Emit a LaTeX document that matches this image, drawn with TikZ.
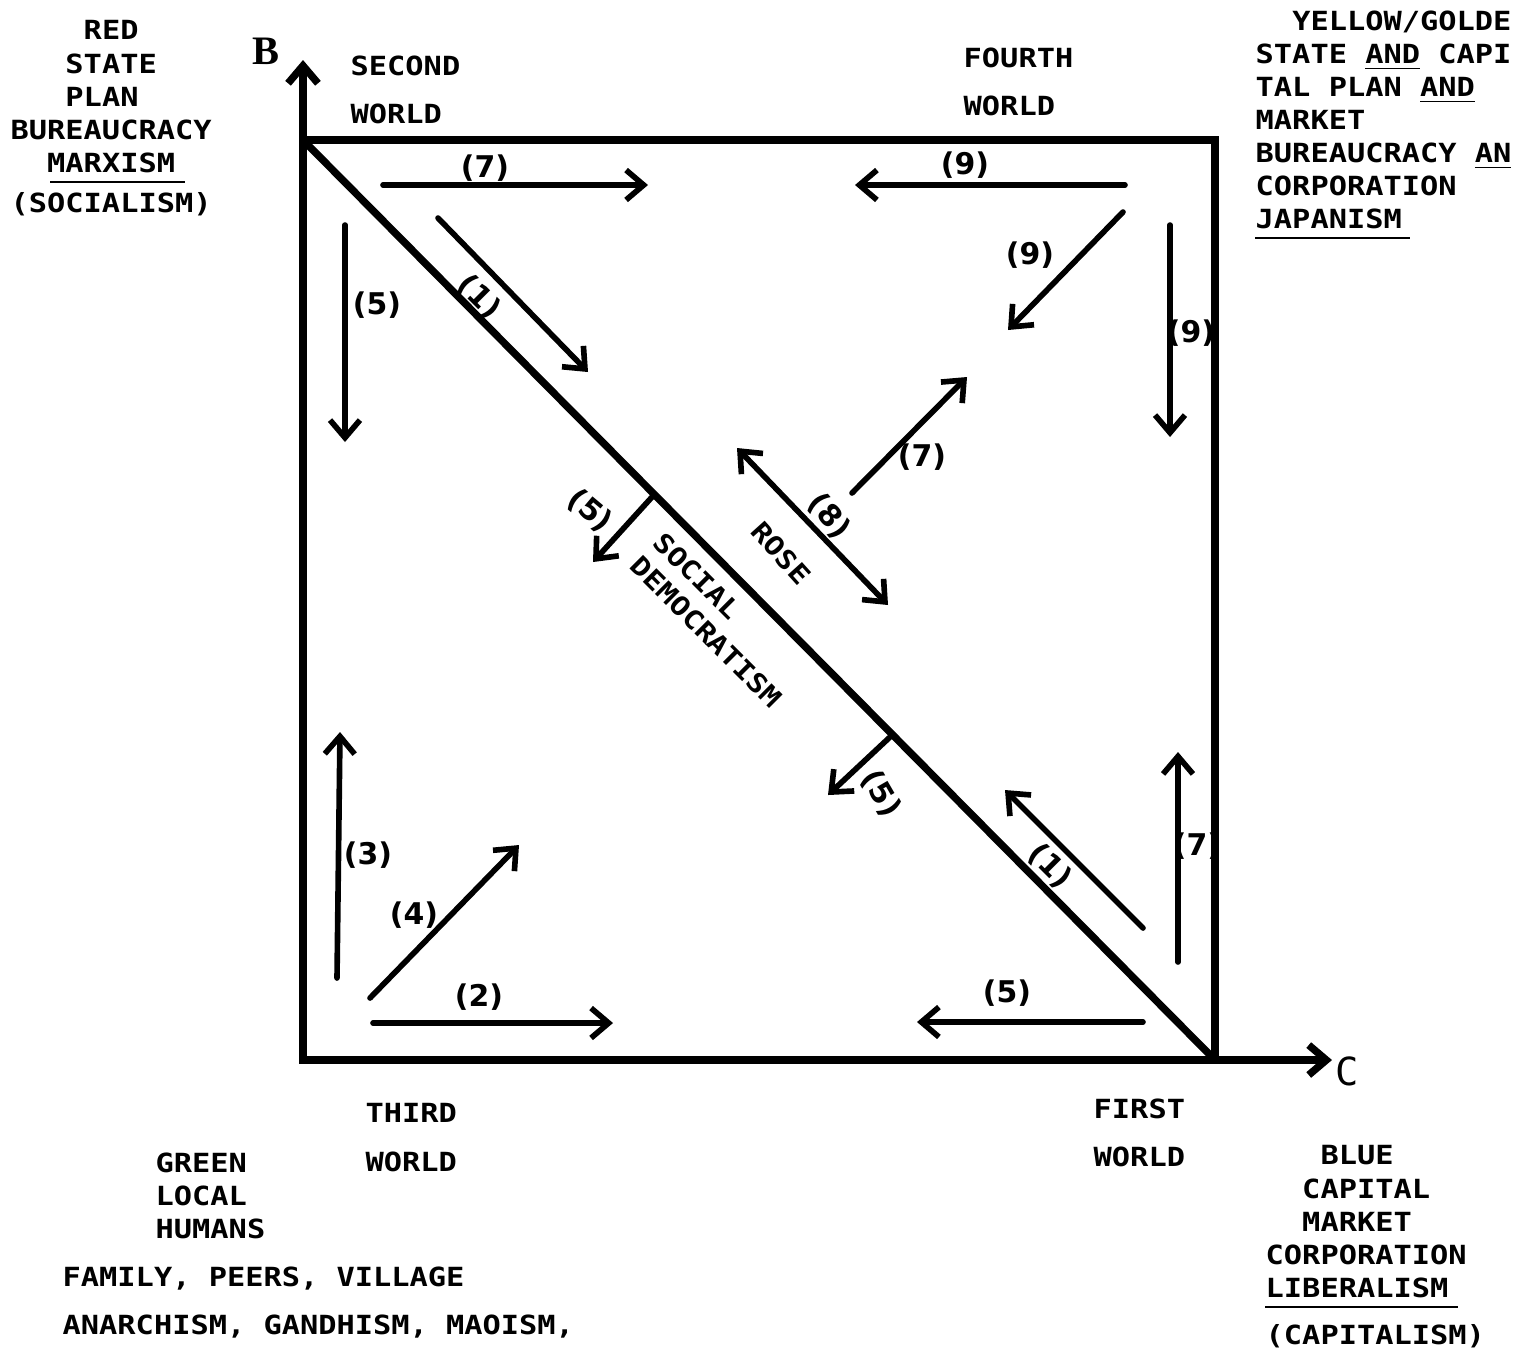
\documentclass[tikz,border=0pt]{standalone}
\usepackage{fontspec}
\setmainfont{DejaVu Sans}
\newfontfamily\typefont{DejaVu Sans Mono}[FakeStretch=1.15]
\newfontfamily\plainmono{DejaVu Sans Mono}
\newfontfamily\axisserif{Liberation Serif}
\usetikzlibrary{arrows.meta}
\tikzset{
  >={Straight Barb[length=5pt,width=8.5pt]},
  frame/.style={line width=2.1pt,line cap=round},
  move/.style={->,line width=1.6pt,line cap=round},
  rule/.style={line width=0.8pt},
  txt/.style={font={\typefont\bfseries\fontsize{7.5}{9.4}\selectfont},
              inner sep=0pt,anchor=north west,align=left},
  world/.style={txt,font={\typefont\bfseries\fontsize{7.5}{13.7}\selectfont}},
  num/.style={font={\bfseries\fontsize{8.5}{8.5}\selectfont},inner sep=1pt},
  axisb/.style={font={\axisserif\bfseries\fontsize{11.5}{11.5}\selectfont},inner sep=0pt},
  axisc/.style={font={\plainmono\fontsize{11}{11}\selectfont},inner sep=0pt},
}

\begin{document}
\begin{tikzpicture}[x=0.01cm,y=-0.01cm]
  \useasboundingbox (0,0) rectangle (1528,1350);

  % square, axes and the diagonal
  \coordinate (o) at (303,1060);
  \coordinate (b) at (303,140);
  \coordinate (c) at (1215,1060);
  \coordinate (d) at (1215,140);
  \coordinate (btip) at (303,60);
  \coordinate (ctip) at (1332,1060);
  \draw[frame] (o) rectangle (d);
  \draw[frame,->] (b) -- (btip);
  \draw[frame,->] (c) -- (ctip);
  \draw[frame] (b) -- (c);
  \node[axisb] (blbl) at (266,51) {B};
  \node[axisc] (clbl) at (1347,1071) {C};

  % corner texts
  \node[txt] (red) at (10,20)
    {\phantom{XXXX}RED\\\phantom{XXX}STATE\\\phantom{XXX}PLAN\\BUREAUCRACY\\\phantom{XX}MARXISM\\[2pt](SOCIALISM)};
  \draw[rule] (50,182) -- (185,182);
  \node[txt] (yellow) at (1255,10)
    {\phantom{XX}YELLOW/GOLDE\\STATE \underline{AND} CAPI\\TAL PLAN \underline{AND}\\MARKET\\BUREAUCRACY \underline{AN}\\CORPORATION\\JAPANISM};
  \draw[rule] (1255,238) -- (1410,238);
  \node[txt] (blue) at (1265,1145)
    {\phantom{XXX}BLUE\\\phantom{XX}CAPITAL\\\phantom{XX}MARKET\\CORPORATION\\LIBERALISM\\[4pt](CAPITALISM)};
  \draw[rule] (1265,1307) -- (1458,1307);
  \node[txt] (green) at (155,1152) {GREEN\\LOCAL\\HUMANS};
  \node[world] (family) at (62,1266) {FAMILY, PEERS, VILLAGE\\ANARCHISM, GANDHISM, MAOISM,};

  % worlds
  \node[world] (second) at (350,55) {SECOND\\WORLD};
  \node[world] (fourth) at (963,47) {FOURTH\\WORLD};
  \node[world] (third) at (365,1103) {THIRD\\WORLD};
  \node[world] (first) at (1093,1098) {FIRST\\WORLD};

  % texts along the diagonal
  \node[txt,anchor=center,rotate=-45] (socdem) at (718,620) {SOCIAL\\DEMOCRATISM};
  \node[txt,anchor=center,rotate=-48] (rose) at (781,553) {ROSE};

  % moves
  \draw[move] (383,185) -- (648,185);
  \node[num] (m7a) at (485,168) {(7)};
  \draw[move] (1125,185) -- (855,185);
  \node[num] (m9a) at (965,165) {(9)};
  \draw[move] (1123,212) -- (1008,330);
  \node[num] (m9b) at (1030,255) {(9)};
  \draw[move] (1170,225) -- (1170,437);
  \node[num] (m9c) at (1191,333) {(9)};
  \draw[move] (345,225) -- (345,442);
  \node[num] (m5a) at (377,305) {(5)};
  \draw[move] (438,218) -- (588,372);
  \node[num,rotate=-45] (m1a) at (479,297) {(1)};
  \draw[move] (852,493) -- (967,377);
  \node[num] (m7b) at (922,457) {(7)};
  \draw[move,<->] (737,448) -- (888,605);
  \node[num,rotate=-50] (m8) at (829,516) {(8)};
  \draw[move] (652,497) -- (593,562);
  \node[num,rotate=-40] (m5b) at (590,511) {(5)};
  \draw[move] (890,737) -- (828,795);
  \node[num,rotate=-60] (m5c) at (881,794) {(5)};
  \draw[move] (1143,928) -- (1005,790);
  \node[num,rotate=-45] (m1b) at (1050,866) {(1)};
  \draw[move] (1178,962) -- (1178,752);
  \node[num] (m7c) at (1197,846) {(7)};
  \draw[move] (337,978) -- (340,732);
  \node[num] (m3) at (368,855) {(3)};
  \draw[move] (370,998) -- (519,845);
  \node[num] (m4) at (414,915) {(4)};
  \draw[move] (373,1023) -- (613,1023);
  \node[num] (m2) at (479,997) {(2)};
  \draw[move] (1143,1022) -- (917,1022);
  \node[num] (m5d) at (1007,993) {(5)};
\end{tikzpicture}
\end{document}
